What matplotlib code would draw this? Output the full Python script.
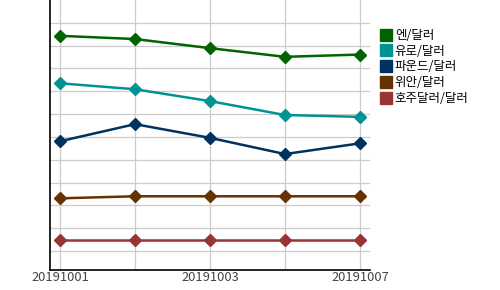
import matplotlib.pyplot as plt
from matplotlib.lines import Line2D

plt.rcParams['font.family'] = ['Noto Sans CJK KR', 'DejaVu Sans']

dates = ['20191001', '20191002', '20191003', '20191004', '20191007']
shown_labels = ['20191001', '', '20191003', '', '20191007']

# relative index values (no y axis labels in the original)
yen_usd = [9.43, 9.29, 8.89, 8.51, 8.61]
eur_usd = [7.35, 7.09, 6.57, 5.96, 5.88]
gbp_usd = [4.81, 5.56, 4.96, 4.25, 4.72]
cny_usd = [2.31, 2.40, 2.40, 2.40, 2.40]
aud_usd = [0.48, 0.48, 0.48, 0.48, 0.48]

names = ['엔/달러', '유로/달러', '파운드/달러', '위안/달러', '호주달러/달러']
colors = ['#006400', '#009393', '#00325f', '#653200', '#973535']
series = [yen_usd, eur_usd, gbp_usd, cny_usd, aud_usd]

fig = plt.figure(figsize=(5, 2.9), dpi=100)
ax = fig.add_axes([0.1, 20 / 290, 0.64, 270 / 290])

x = list(range(len(dates)))
for vals, c in zip(series, colors):
    ax.plot(x, vals, color=c, lw=1.8, marker='D', markersize=6, zorder=3)

ax.set_xlim(-0.133, 4.133)
ax.set_ylim(-0.83, 11.0)
ax.set_xticks(x)
ax.set_xticklabels(shown_labels, fontsize=9.3, color='#444444')
ax.set_yticks(range(0, 11))
ax.set_yticklabels([])
ax.tick_params(length=0, pad=1)
ax.grid(True, color='#cccccc', lw=0.9)
ax.set_axisbelow(True)
for s in ['top', 'right']:
    ax.spines[s].set_visible(False)
ax.spines['left'].set_linewidth(1.2)
ax.spines['bottom'].set_linewidth(1.2)

handles = [Line2D([], [], ls='none', marker='s', markersize=8, color=c) for c in colors]
fig.legend(handles, names, loc='upper left', bbox_to_anchor=(381 / 500, 1 - 29 / 290),
           frameon=False, fontsize=9, handlelength=0.8, handletextpad=0.3,
           labelspacing=0.22, borderaxespad=0, borderpad=0)

fig.savefig('out.png')
